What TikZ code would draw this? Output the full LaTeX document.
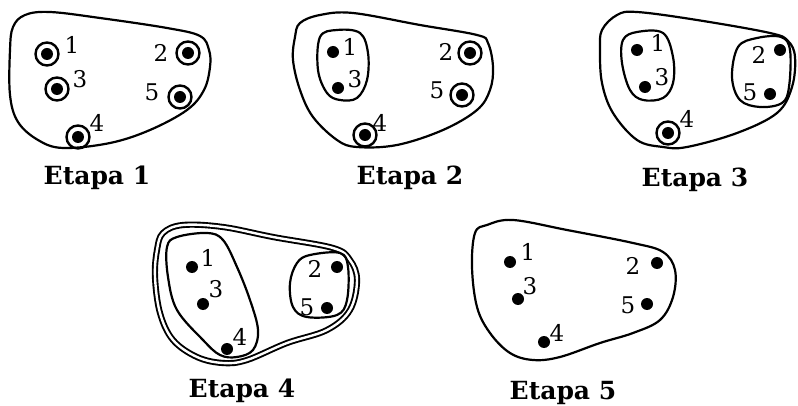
\documentclass[tikz,border=0pt]{standalone}
\usepackage{fontspec}
\setmainfont{DejaVu Serif}
\begin{document}
\begin{tikzpicture}[x=1pt,y=-1pt,
  blob/.style={line width=2.2pt,line join=round},
  dblblob/.style={line width=1.9pt,double distance=2.4pt,line join=round},
  dot/.style={circle,fill=black,inner sep=0pt,minimum size=12pt},
  ring/.style={circle,draw=black,line width=2.4pt,inner sep=0pt,minimum size=23pt},
  num/.style={inner sep=0pt,font=\fontsize{23}{23}\selectfont},
  title/.style={inner sep=0pt,font=\fontsize{25}{25}\selectfont\bfseries}]
\useasboundingbox (0,0) rectangle (798,406);

% ---------------- Etapa 1
\draw[blob] plot[smooth cycle,tension=0.6] coordinates {(13,27) (25,15) (50,12) (100,18) (167,28) (200,36) (209,50) (210,67) (204,90) (187,110) (150,130) (110,143) (63,148) (38,140) (18,122) (10,95) (10,50)};
\node[dot] (a1) at (47,54) {};  \node[ring] at (a1) {};
\node[dot] (a2) at (188,53) {}; \node[ring] at (a2) {};
\node[dot] (a3) at (57,89) {};  \node[ring] at (a3) {};
\node[dot] (a5) at (180,97) {}; \node[ring] at (a5) {};
\node[dot] (a4) at (78,137) {}; \node[ring] at (a4) {};
\node[num] (la1) at (72,45) {1};
\node[num] (la2) at (161,53) {2};
\node[num] (la3) at (80,79) {3};
\node[num] (la5) at (152,92) {5};
\node[num] (la4) at (97,123) {4};
\node[title] (t1) at (97,178) {Etapa 1};

% ---------------- Etapa 2
\draw[blob] plot[smooth cycle,tension=0.6] coordinates {(300,23) (320,15) (353,13) (420,25) (477,35) (488,43) (493,67) (490,90) (477,110) (443,130) (397,145) (357,147) (337,140) (313,117) (300,90) (293,60) (295,37)};
\draw[blob] plot[smooth cycle,tension=0.6] coordinates {(320,37) (337,30) (360,33) (368,53) (367,80) (357,98) (340,100) (327,93) (318,70)};
\node[dot] (b1) at (333,52) {};
\node[dot] (b3) at (338,88) {};
\node[dot] (b2) at (470,53) {}; \node[ring] at (b2) {};
\node[dot] (b5) at (462,95) {}; \node[ring] at (b5) {};
\node[dot] (b4) at (365,135) {}; \node[ring] at (b4) {};
\node[num] (lb1) at (350,47) {1};
\node[num] (lb3) at (355,79) {3};
\node[num] (lb2) at (446,52) {2};
\node[num] (lb5) at (437,90) {5};
\node[num] (lb4) at (380,123) {4};
\node[title] (t2) at (410,178) {Etapa 2};

% ---------------- Etapa 3
\draw[blob] plot[smooth cycle,tension=0.6] coordinates {(602,30) (617,15) (637,12) (697,20) (770,33) (788,41) (795,57) (792,87) (777,113) (737,133) (687,147) (663,147) (637,140) (613,113) (602,83) (600,50)};
\draw[blob] plot[smooth cycle,tension=0.6] coordinates {(623,40) (637,32) (663,33) (673,57) (673,83) (663,98) (643,100) (630,90) (622,63)};
\draw[blob] plot[smooth cycle,tension=0.6] coordinates {(738,47) (757,38) (781,37) (790,50) (789,87) (782,103) (760,107) (740,100) (732,77)};
\node[dot] (c1) at (637,50) {};
\node[dot] (c3) at (645,87) {};
\node[dot] (c2) at (780,50) {};
\node[dot] (c5) at (770,94) {};
\node[dot] (c4) at (668,133) {}; \node[ring] at (c4) {};
\node[num] (lc1) at (658,43) {1};
\node[num] (lc3) at (662,77) {3};
\node[num] (lc2) at (759,55) {2};
\node[num] (lc5) at (750,92) {5};
\node[num] (lc4) at (687,119) {4};
\node[title] (t3) at (695,180) {Etapa 3};

% ---------------- Etapa 4
\draw[dblblob] plot[smooth cycle,tension=0.6] coordinates {(157,250) (163,233) (183,225) (223,227) (273,237) (333,248) (350,260) (357,280) (350,310) (327,330) (287,343) (247,360) (223,363) (197,357) (173,340) (160,313) (155,277)};
\draw[blob] plot[smooth cycle,tension=0.6] coordinates {(167,247) (177,237) (207,233) (223,240) (237,267) (250,300) (258,330) (253,350) (237,357) (220,355) (203,340) (177,310) (168,277)};
\draw[blob] plot[smooth cycle,tension=0.6] coordinates {(297,263) (310,255) (340,253) (348,267) (347,300) (337,315) (307,317) (293,307) (290,283)};
\node[dot] (d1) at (192,267) {};
\node[dot] (d3) at (203,304) {};
\node[dot] (d4) at (227,349) {};
\node[dot] (d2) at (337,267) {};
\node[dot] (d5) at (327,308) {};
\node[num] (ld1) at (208,258) {1};
\node[num] (ld3) at (216,289) {3};
\node[num] (ld4) at (240,337) {4};
\node[num] (ld2) at (315,269) {2};
\node[num] (ld5) at (307,307) {5};
\node[title] (t4) at (242,391) {Etapa 4};

% ---------------- Etapa 5
\draw[blob] plot[smooth cycle,tension=0.6] coordinates {(475,233) (487,225) (513,220) (567,230) (633,243) (663,252) (675,270) (673,297) (660,320) (633,333) (600,343) (560,357) (533,360) (510,353) (490,333) (477,307) (472,267)};
\node[dot] (e1) at (510,262) {};
\node[dot] (e3) at (518,299) {};
\node[dot] (e4) at (544,342) {};
\node[dot] (e2) at (657,263) {};
\node[dot] (e5) at (647,304) {};
\node[num] (le1) at (528,252) {1};
\node[num] (le3) at (530,286) {3};
\node[num] (le4) at (557,333) {4};
\node[num] (le2) at (633,266) {2};
\node[num] (le5) at (628,305) {5};
\node[title] (t5) at (563,393) {Etapa 5};
\end{tikzpicture}
\end{document}
